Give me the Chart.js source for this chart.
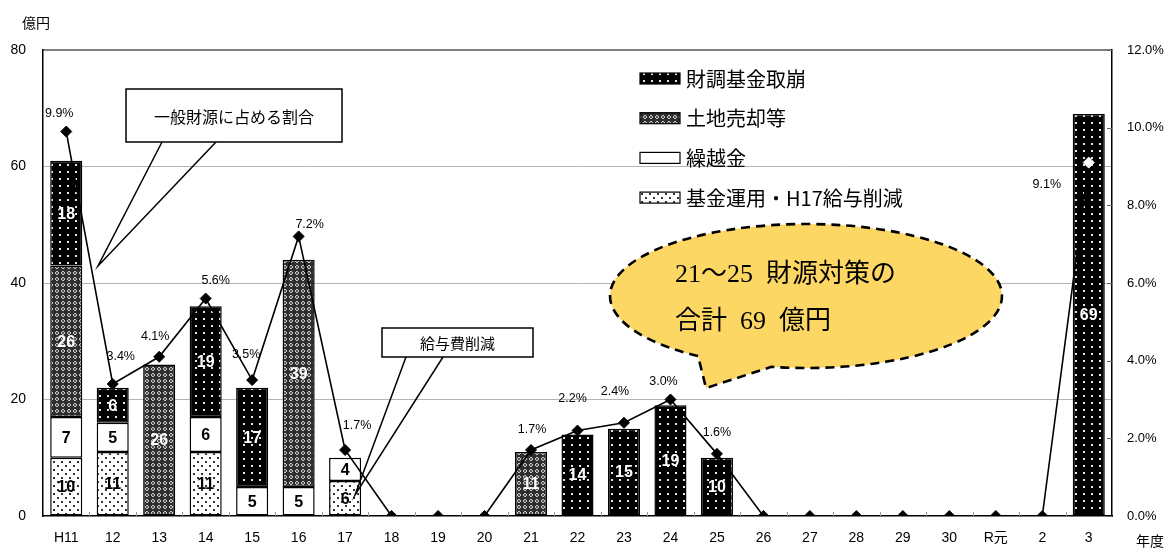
<!DOCTYPE html>
<html lang="ja"><head>
<meta charset="utf-8"/>
<title>財源対策の推移</title>
<script src="https://cdn.jsdelivr.net/npm/chart.js"></script>
<style>
  body { margin: 0; background: #fff; }
  #wrap { width: 1165px; height: 548px; }
</style>
</head>
<body>
<div id="wrap"><canvas id="chart" width="1165" height="548"></canvas></div>
<script>
// 年度
const years = ['H11', '12', '13', '14', '15', '16', '17', '18', '19', '20', '21', '22', '23', '24', '25', '26', '27', '28', '29', '30', 'R元', '2', '3'];
// 億円
const reserveDraw = [18, 6, 0, 19, 17, 0, 0, 0, 0, 0, 0, 14, 15, 19, 10, 0, 0, 0, 0, 0, 0, 0, 69];
const landSales   = [26, 0, 26, 0, 0, 39, 0, 0, 0, 0, 11, 0, 0, 0, 0, 0, 0, 0, 0, 0, 0, 0, 0];
const carryOver   = [7, 5, 0, 6, 5, 5, 4, 0, 0, 0, 0, 0, 0, 0, 0, 0, 0, 0, 0, 0, 0, 0, 0];
const fundOps     = [10, 11, 0, 11, 0, 0, 6, 0, 0, 0, 0, 0, 0, 0, 0, 0, 0, 0, 0, 0, 0, 0, 0];
// 一般財源に占める割合 (%)
const shareOfRevenue = [9.9, 3.4, 4.1, 5.6, 3.5, 7.2, 1.7, 0, 0, 0, 1.7, 2.2, 2.4, 3.0, 1.6, 0, 0, 0, 0, 0, 0, 0, 9.1];
const amountTicks = [0, 20, 40, 60, 80];
const shareTicks = [0, 2, 4, 6, 8, 10, 12];

// label nudges for the % labels, [dx, dy] from the marker
const pctLabelOffsets = [[-7, -18], [8, -27], [-4, -20], [10, -18], [-6, -26], [11, -12], [12, -24],
  [0, 0], [0, 0], [0, 0], [1, -20], [-5, -32], [-9, -31], [-7, -18], [0, -21],
  [0, 0], [0, 0], [0, 0], [0, 0], [0, 0], [0, 0], [0, 0], [-42, 22]];

const SANS = "'Liberation Sans', Arial, 'Noto Sans CJK JP', sans-serif";
const JP = "'Noto Sans CJK JP', sans-serif";
const SERIF = "'Liberation Serif', 'Noto Sans CJK JP', serif";

const canvas = document.getElementById('chart');
const ctx = canvas.getContext('2d');

function makePattern(w, h, paint) {
  const c = document.createElement('canvas');
  c.width = w; c.height = h;
  paint(c.getContext('2d'));
  return ctx.createPattern(c, 'repeat');
}

// black with white dots
const drawFill = makePattern(8, 7, g => {
  g.fillStyle = '#000'; g.fillRect(0, 0, 8, 7);
  g.fillStyle = '#e6e6e6'; g.fillRect(3, 3, 2, 2);
});
// gray net
const landFill = makePattern(6, 6, g => {
  g.fillStyle = '#2e2e2e'; g.fillRect(0, 0, 6, 6);
  g.fillStyle = '#c4c4c4';
  g.fillRect(1, 2, 4, 2); g.fillRect(2, 1, 2, 4);
  g.fillStyle = '#555'; g.fillRect(2, 2, 2, 2);
});
// white with staggered black dots
const fundFill = makePattern(8, 8, g => {
  g.fillStyle = '#fff'; g.fillRect(0, 0, 8, 8);
  g.fillStyle = '#333';
  g.fillRect(1, 1, 2, 2); g.fillRect(5, 5, 2, 2);
});

const orNull = arr => arr.map(v => v || null);

const barStyle = {
  type: 'bar', yAxisID: 'y', order: 1,
  borderColor: '#000', borderWidth: 1.5, borderSkipped: false,
  barPercentage: 0.69, categoryPercentage: 1
};

const datasets = [
  { ...barStyle, label: '基金運用・H17給与削減', data: orNull(fundOps), backgroundColor: fundFill, textColor: '#000' },
  { ...barStyle, label: '繰越金', data: orNull(carryOver), backgroundColor: '#fff', textColor: '#000' },
  { ...barStyle, label: '土地売却等', data: orNull(landSales), backgroundColor: landFill, textColor: '#fff' },
  { ...barStyle, label: '財調基金取崩', data: orNull(reserveDraw), backgroundColor: drawFill, textColor: '#fff' },
  {
    type: 'line', label: '一般財源に占める割合', yAxisID: 'y1', order: 0,
    data: shareOfRevenue,
    borderColor: '#000', borderWidth: 1.6, tension: 0,
    pointStyle: 'rectRot', pointRadius: 5.5,
    pointBackgroundColor: shareOfRevenue.map((v, i) => i === shareOfRevenue.length - 1 ? '#fff' : '#000'),
    pointBorderColor: shareOfRevenue.map((v, i) => i === shareOfRevenue.length - 1 ? '#fff' : '#000'),
    pointBorderWidth: 1
  }
];

// numbers inside bar segments, % labels over the line
const valueLabels = {
  id: 'valueLabels',
  afterDatasetsDraw(chart) {
    const c = chart.ctx;
    c.save();
    c.textAlign = 'center';
    c.textBaseline = 'middle';
    c.font = 'bold 16px ' + SANS;
    chart.data.datasets.forEach((ds, di) => {
      if (ds.type !== 'bar') return;
      chart.getDatasetMeta(di).data.forEach((bar, i) => {
        const v = ds.data[i];
        if (!v) return;
        c.fillStyle = ds.textColor;
        c.fillText(String(v), bar.x, (bar.y + bar.base) / 2 + 1);
      });
    });
    const lineMeta = chart.getDatasetMeta(4);
    c.font = '12.5px ' + SANS;
    c.fillStyle = '#000';
    shareOfRevenue.forEach((v, i) => {
      if (!v) return;
      const p = lineMeta.data[i];
      const o = pctLabelOffsets[i];
      c.fillText(v.toFixed(1) + '%', p.x + o[0], p.y + o[1]);
    });
    c.restore();
  }
};

// frame, small tick marks, unit captions, legend, callouts
const decorations = {
  id: 'decorations',
  afterDraw(chart) {
    const c = chart.ctx;
    const a = chart.chartArea;
    const x = chart.scales.x;
    const y1 = chart.scales.y1;
    c.save();

    c.strokeStyle = '#000';
    c.lineWidth = 1.2;
    c.beginPath();
    c.moveTo(a.left, a.top); c.lineTo(a.right, a.top);
    c.stroke();

    // right axis ticks pointing inward
    c.lineWidth = 1;
    c.strokeStyle = '#666';
    shareTicks.forEach(t => {
      const ty = Math.round(y1.getPixelForValue(t)) + 0.5;
      c.beginPath(); c.moveTo(a.right - 5, ty); c.lineTo(a.right, ty); c.stroke();
    });
    // category separators on the x axis
    c.strokeStyle = '#999';
    for (let i = 1; i < years.length; i++) {
      const sx = Math.round((x.getPixelForValue(i - 1) + x.getPixelForValue(i)) / 2) + 0.5;
      c.beginPath(); c.moveTo(sx, a.bottom - 4); c.lineTo(sx, a.bottom); c.stroke();
    }

    c.fillStyle = '#000';
    c.font = '14px ' + JP;
    c.textAlign = 'center';
    c.textBaseline = 'middle';
    c.fillText('億円', 36, 23);
    c.fillText('年度', 1150, 541);

    // legend, top item first
    const items = [3, 2, 1, 0].map(i => chart.data.datasets[i]);
    c.font = '20px ' + JP;
    c.textAlign = 'left';
    items.forEach((ds, k) => {
      const ly = 78 + k * 39.7;
      c.fillStyle = ds.backgroundColor;
      c.fillRect(640, ly - 5, 40, 11);
      c.strokeStyle = '#000';
      c.lineWidth = 1.2;
      c.strokeRect(640, ly - 5, 40, 11);
      c.fillStyle = '#000';
      c.fillText(ds.label, 686, ly + 1);
    });

    // callout boxes
    const callout = (bx, by, bw, bh, text, size, wedge) => {
      c.fillStyle = '#fff';
      c.fillRect(bx, by, bw, bh);
      c.strokeStyle = '#000';
      c.lineWidth = 1.5;
      c.strokeRect(bx, by, bw, bh);
      c.beginPath();
      c.moveTo(wedge[0], by + bh);
      c.lineTo(wedge[2], wedge[3]);
      c.lineTo(wedge[1], by + bh);
      c.stroke();
      c.fillStyle = '#000';
      c.font = size + 'px ' + JP;
      c.textAlign = 'center';
      c.fillText(text, bx + bw / 2, by + bh / 2 + 1);
    };
    callout(126, 89, 216, 53, '一般財源に占める割合', 16, [162, 216, 98, 266]);
    callout(382, 328, 151, 29, '給与費削減', 15, [406, 443, 355, 495]);

    // yellow speech bubble
    const cx = 806, cy = 296, rx = 196, ry = 72;
    const t1 = 123.4 * Math.PI / 180, t2 = 100.2 * Math.PI / 180;
    c.beginPath();
    c.ellipse(cx, cy, rx, ry, 0, t1, t2, false);
    c.lineTo(706, 388);
    c.closePath();
    c.fillStyle = '#fdd764';
    c.fill();
    c.setLineDash([9, 6]);
    c.lineWidth = 2.6;
    c.strokeStyle = '#000';
    c.stroke();
    c.setLineDash([]);
    c.fillStyle = '#000';
    c.font = '26px ' + SERIF;
    c.textAlign = 'left';
    c.fillText('21～25\u2002財源対策の', 675, 275);
    c.fillText('合計\u200269\u2002億円', 675, 322);

    c.restore();
  }
};

new Chart(ctx, {
  data: { labels: years, datasets },
  options: {
    responsive: false,
    animation: false,
    layout: { padding: { top: 50, left: 0, right: 0, bottom: 0 } },
    plugins: { legend: { display: false }, tooltip: { enabled: false } },
    scales: {
      x: {
        stacked: true,
        grid: { display: false },
        border: { color: '#000', width: 1.5 },
        ticks: { color: '#000', font: { family: SANS, size: 14 }, padding: 6, maxRotation: 0, autoSkip: false },
        afterFit: s => { s.height = 32; }
      },
      y: {
        stacked: true, min: 0, max: 80,
        afterBuildTicks: s => { s.ticks = amountTicks.map(v => ({ value: v })); },
        grid: {
          drawTicks: false, lineWidth: 1,
          color: g => (g.tick.value === 0 || g.tick.value === 80) ? 'rgba(0,0,0,0)' : '#b4b4b4'
        },
        border: { color: '#000', width: 1.5 },
        ticks: { color: '#000', font: { family: SANS, size: 14 }, padding: 17 },
        afterFit: s => { s.width = 43; }
      },
      y1: {
        position: 'right', min: 0, max: 12,
        afterBuildTicks: s => { s.ticks = shareTicks.map(v => ({ value: v })); },
        grid: { display: false, drawTicks: false },
        border: { color: '#000', width: 1.5 },
        ticks: { color: '#000', font: { family: SANS, size: 13 }, padding: 15, callback: v => v.toFixed(1) + '%' },
        afterFit: s => { s.width = 53; }
      }
    }
  },
  plugins: [valueLabels, decorations]
});
</script>
</body></html>
